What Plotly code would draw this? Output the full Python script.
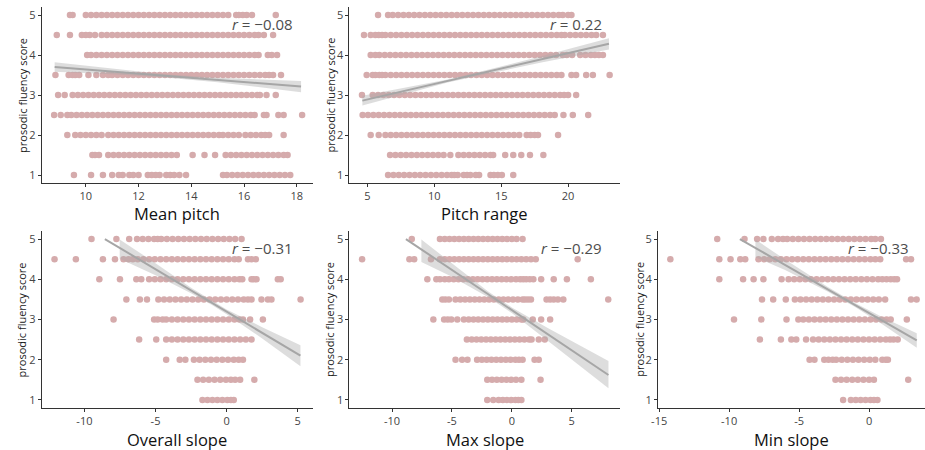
import plotly.graph_objects as go

# ---------------- data ----------------
Y_LEVELS = [5, 4.5, 4, 3.5, 3, 2.5, 2, 1.5, 1]

mean_pitch = {
    5: [9.4, 9.5, 10.0, 10.2, 10.4, 10.6, 10.8, 11.0, 11.2, 11.4, 11.6, 11.8, 12.0, 12.2, 12.4, 12.6, 12.8, 13.0, 13.2, 13.4, 13.6, 13.8, 14.0, 14.2, 14.4, 14.6, 14.8, 15.0, 15.2, 15.4, 15.7, 15.8, 15.95, 16.1, 16.3, 17.2],
    4.5: [8.9, 9.4, 9.85, 10.0, 10.15, 10.35, 10.6, 10.8, 11.0, 11.2, 11.4, 11.6, 11.8, 12.0, 12.2, 12.4, 12.6, 12.8, 13.0, 13.2, 13.4, 13.6, 13.8, 14.0, 14.2, 14.4, 14.6, 14.8, 15.0, 15.2, 15.4, 15.6, 15.8, 16.0, 16.2, 16.4, 16.55, 16.75, 17.1],
    4: [10.05, 10.2, 10.4, 10.6, 10.8, 11.0, 11.2, 11.4, 11.6, 11.8, 12.0, 12.2, 12.4, 12.6, 12.8, 13.0, 13.2, 13.4, 13.6, 13.8, 14.0, 14.2, 14.4, 14.6, 14.8, 15.0, 15.2, 15.4, 15.6, 15.8, 16.0, 16.2, 16.4, 16.55, 16.9, 17.05, 17.25],
    3.5: [8.85, 9.35, 9.5, 9.6, 9.75, 10.1, 10.4, 10.65, 10.85, 11.0, 11.2, 11.4, 11.6, 11.8, 12.0, 12.2, 12.4, 12.6, 12.8, 13.0, 13.2, 13.4, 13.6, 13.8, 14.0, 14.2, 14.4, 14.6, 14.8, 15.0, 15.2, 15.4, 15.6, 15.8, 16.0, 16.2, 16.4, 16.6, 16.8, 16.95, 17.1, 17.4],
    3: [8.95, 9.2, 9.5, 9.7, 9.9, 10.1, 10.3, 10.5, 10.7, 10.9, 11.1, 11.3, 11.5, 11.7, 11.9, 12.1, 12.3, 12.5, 12.7, 12.9, 13.1, 13.3, 13.5, 13.7, 13.9, 14.1, 14.3, 14.5, 14.7, 14.9, 15.1, 15.3, 15.5, 15.7, 15.9, 16.1, 16.3, 16.5, 16.6, 16.85, 17.2],
    2.5: [8.8, 9.05, 9.3, 9.45, 9.65, 9.85, 10.05, 10.25, 10.45, 10.65, 10.85, 11.05, 11.25, 11.45, 11.65, 11.85, 12.05, 12.25, 12.45, 12.65, 12.85, 13.05, 13.25, 13.45, 13.65, 13.85, 14.05, 14.25, 14.45, 14.65, 14.85, 15.05, 15.25, 15.45, 15.65, 15.85, 16.05, 16.25, 16.4, 16.75, 16.85, 17.3, 17.5, 18.2],
    2: [9.3, 9.6, 9.8, 10.0, 10.2, 10.4, 10.6, 10.85, 11.05, 11.25, 11.45, 11.65, 11.85, 12.05, 12.25, 12.45, 12.65, 12.85, 13.05, 13.25, 13.45, 13.65, 13.85, 14.05, 14.25, 14.45, 14.65, 14.85, 15.05, 15.2, 15.4, 15.6, 15.8, 16.05, 16.25, 16.45, 16.65, 16.8, 16.95, 17.5],
    1.5: [10.25, 10.35, 10.5, 10.85, 11.05, 11.25, 11.45, 11.65, 11.85, 12.05, 12.25, 12.45, 12.65, 12.85, 13.05, 13.25, 13.45, 14.05, 14.5, 14.9, 15.3, 15.5, 15.7, 15.9, 16.1, 16.3, 16.5, 16.7, 16.9, 17.1, 17.3, 17.5, 17.65],
    1: [9.55, 10.2, 10.65, 11.0, 11.25, 11.4, 11.65, 11.8, 12.0, 12.35, 12.5, 12.65, 12.8, 13.05, 13.2, 13.35, 13.55, 13.8, 15.2, 15.35, 15.55, 15.75, 15.95, 16.15, 16.35, 16.55, 16.75, 16.95, 17.15, 17.35, 17.55, 17.75],
}

pitch_range = {
    5: [5.8, 6.55, 6.9, 7.3, 7.7, 8.1, 8.5, 8.9, 9.3, 9.7, 10.1, 10.5, 10.9, 11.3, 11.7, 12.1, 12.5, 12.9, 13.3, 13.7, 14.1, 14.5, 14.9, 15.3, 15.7, 16.1, 16.5, 16.9, 17.3, 17.7, 18.1, 18.5, 18.9, 19.3, 19.6, 20.0, 20.25],
    4.5: [4.75, 5.25, 5.6, 5.85, 6.1, 6.35, 6.75, 7.15, 7.55, 7.95, 8.35, 8.75, 9.15, 9.55, 9.95, 10.35, 10.75, 11.15, 11.55, 11.95, 12.35, 12.75, 13.15, 13.55, 13.95, 14.35, 14.75, 15.15, 15.55, 15.95, 16.35, 16.75, 17.15, 17.55, 17.95, 18.35, 18.75, 19.15, 19.5, 19.75, 20.15, 20.55, 20.95, 21.35, 21.75, 22.1, 22.6],
    4: [5.25, 5.6, 5.9, 6.3, 6.7, 7.1, 7.5, 7.9, 8.3, 8.7, 9.1, 9.5, 9.9, 10.3, 10.7, 11.1, 11.5, 11.9, 12.3, 12.7, 13.1, 13.5, 13.9, 14.3, 14.7, 15.1, 15.5, 15.9, 16.3, 16.7, 17.1, 17.5, 17.9, 18.3, 18.7, 19.1, 19.6, 19.9, 20.3, 20.9, 21.3, 21.7, 22.0, 22.3, 22.6],
    3.5: [4.95, 5.4, 5.6, 5.9, 6.1, 6.35, 6.75, 7.15, 7.55, 7.95, 8.35, 8.75, 9.15, 9.55, 9.95, 10.35, 10.75, 11.15, 11.55, 11.95, 12.35, 12.75, 13.15, 13.55, 13.95, 14.35, 14.75, 15.15, 15.55, 15.95, 16.35, 16.75, 17.15, 17.55, 17.95, 18.35, 18.75, 19.15, 19.5, 20.25, 20.6, 21.35, 21.85, 23.1],
    3: [4.6, 5.4, 5.8, 6.2, 6.6, 7.0, 7.4, 7.8, 8.2, 8.6, 9.0, 9.4, 9.8, 10.2, 10.6, 11.0, 11.4, 11.8, 12.2, 12.6, 13.0, 13.4, 13.8, 14.2, 14.6, 15.0, 15.4, 15.8, 16.2, 16.6, 17.0, 17.4, 17.8, 18.2, 18.6, 19.0, 19.4, 19.7, 20.0, 20.6],
    2.5: [4.65, 5.05, 5.45, 5.85, 6.25, 6.65, 7.05, 7.45, 7.85, 8.25, 8.65, 9.05, 9.45, 9.85, 10.25, 10.65, 11.05, 11.45, 11.85, 12.25, 12.65, 13.05, 13.45, 13.85, 14.25, 14.65, 15.05, 15.45, 15.85, 16.25, 16.65, 17.05, 17.45, 17.85, 18.25, 18.65, 19.0, 19.65, 20.35, 21.5],
    2: [5.25, 5.85, 6.35, 6.75, 7.15, 7.55, 7.95, 8.35, 8.75, 9.15, 9.55, 9.95, 10.35, 10.75, 11.15, 11.55, 11.95, 12.35, 12.75, 13.15, 13.55, 13.95, 14.35, 14.75, 15.15, 15.55, 15.95, 16.35, 16.9, 17.2, 17.5, 17.75, 19.25],
    1.5: [6.7, 7.1, 7.5, 7.9, 8.3, 8.7, 9.1, 9.5, 9.9, 10.3, 10.7, 11.2, 11.8, 12.2, 12.6, 13.0, 13.4, 13.8, 14.2, 14.4, 15.3, 15.9, 16.5, 17.15, 18.15],
    1: [6.55, 6.95, 7.35, 7.75, 8.15, 8.55, 8.95, 9.35, 9.75, 10.15, 10.55, 10.95, 11.3, 11.5, 11.75, 12.2, 12.45, 12.7, 13.1, 13.35, 14.2, 14.45, 14.75, 15.05, 15.9],
}

overall_slope = {
    5: [-9.5, -7.75, -6.85, -6.3, -5.9, -5.5, -5.1, -4.85, -4.6, -4.2, -3.8, -3.4, -3.0, -2.6, -2.2, -1.8, -1.4, -1.0, -0.6, -0.2, 0.2, 0.6, 1.05],
    4.5: [-12.1, -10.6, -8.7, -7.85, -7.25, -6.9, -6.6, -6.25, -5.85, -5.45, -5.05, -4.65, -4.25, -3.85, -3.45, -3.05, -2.65, -2.25, -1.85, -1.45, -1.05, -0.65, -0.25, 0.15, 0.55, 0.85, 1.5, 1.75, 2.05],
    4: [-8.95, -7.5, -6.35, -6.0, -5.45, -5.05, -4.65, -4.25, -3.85, -3.45, -3.05, -2.65, -2.25, -1.85, -1.45, -1.05, -0.65, -0.25, 0.15, 0.55, 0.9, 1.1, 1.75, 1.9, 2.1, 3.6, 3.8],
    3.5: [-7.05, -6.1, -5.6, -4.8, -4.4, -4.0, -3.6, -3.2, -2.8, -2.4, -2.0, -1.6, -1.2, -0.8, -0.4, 0.0, 0.4, 0.8, 1.2, 1.5, 1.75, 2.45, 2.9, 3.15, 5.2],
    3: [-7.95, -5.1, -4.85, -4.5, -4.25, -3.85, -3.45, -3.05, -2.65, -2.25, -1.85, -1.45, -1.05, -0.65, -0.25, 0.15, 0.55, 0.9, 1.15, 1.65, 2.55],
    2.5: [-6.15, -4.95, -4.25, -3.85, -3.45, -3.05, -2.65, -2.25, -1.85, -1.45, -1.05, -0.65, -0.25, 0.15, 0.55, 0.95, 1.35, 1.75],
    2: [-4.25, -3.3, -2.9, -2.3, -1.9, -1.5, -1.1, -0.7, -0.3, 0.1, 0.5, 0.85, 1.15],
    1.5: [-2.05, -1.65, -1.25, -0.85, -0.45, -0.05, 0.3, 0.6, 0.95, 1.95],
    1: [-1.7, -1.35, -1.0, -0.65, -0.3, 0.05, 0.3, 0.5],
}

max_slope = {
    5: [-8.35, -6.0, -5.6, -5.2, -4.8, -4.4, -4.0, -3.6, -3.2, -2.8, -2.4, -2.0, -1.6, -1.2, -0.8, -0.4, 0.0, 0.4, 0.9],
    4.5: [-12.5, -8.55, -8.15, -6.75, -6.0, -5.6, -5.2, -4.8, -4.4, -4.0, -3.6, -3.2, -2.8, -2.4, -2.0, -1.6, -1.2, -0.8, -0.4, 0.0, 0.4, 0.8, 1.2, 1.6, 2.0, 5.5],
    4: [-7.05, -6.3, -6.0, -5.6, -5.25, -4.85, -4.45, -4.05, -3.65, -3.25, -2.85, -2.45, -2.05, -1.65, -1.25, -0.85, -0.45, -0.05, 0.35, 0.7, 0.95, 1.2, 1.5, 1.8, 2.45, 3.5, 4.6, 6.6],
    3.5: [-5.8, -5.55, -5.25, -4.7, -4.3, -3.9, -3.5, -3.1, -2.7, -2.3, -1.9, -1.5, -1.1, -0.7, -0.3, 0.1, 0.5, 0.9, 1.1, 1.35, 1.6, 2.9, 3.2, 3.5, 3.85, 4.3, 8.05],
    3: [-6.55, -5.65, -5.35, -5.05, -4.55, -4.0, -3.6, -3.2, -2.8, -2.4, -2.0, -1.6, -1.2, -0.8, -0.4, 0.0, 0.4, 0.8, 0.95, 1.75, 2.45, 3.2],
    2.5: [-3.75, -3.35, -2.95, -2.55, -2.15, -1.75, -1.35, -0.95, -0.55, -0.15, 0.25, 0.65, 1.05, 1.45, 1.65, 2.25, 2.75],
    2: [-4.7, -4.15, -3.7, -2.9, -2.5, -2.1, -1.7, -1.3, -0.9, -0.5, -0.1, 0.3, 0.6, 0.9, 1.9, 2.25],
    1.5: [-2.05, -1.65, -1.25, -0.85, -0.45, -0.05, 0.35, 0.8, 2.4],
    1: [-2.05, -1.55, -1.1, -0.75, -0.4, -0.05, 0.3, 0.55, 0.8],
}

min_slope = {
    5: [-10.85, -8.9, -8.0, -7.55, -6.95, -6.5, -6.15, -5.85, -5.45, -5.05, -4.65, -4.25, -3.85, -3.45, -3.05, -2.65, -2.25, -1.85, -1.45, -1.05, -0.65, -0.25, 0.15, 0.45, 0.85],
    4.5: [-14.2, -10.7, -9.9, -9.2, -8.85, -7.9, -7.5, -7.1, -6.7, -6.3, -5.9, -5.5, -5.1, -4.7, -4.3, -3.9, -3.5, -3.1, -2.7, -2.3, -1.9, -1.5, -1.1, -0.7, -0.3, 0.1, 0.45, 0.8, 2.65, 3.0],
    4: [-10.7, -9.0, -8.25, -7.55, -6.25, -5.75, -5.35, -4.95, -4.55, -4.15, -3.75, -3.35, -2.95, -2.55, -2.15, -1.75, -1.35, -0.95, -0.55, -0.15, 0.25, 0.65, 0.95, 1.25, 1.55, 1.8, 2.0],
    3.5: [-7.65, -6.85, -5.95, -5.3, -4.9, -4.5, -4.1, -3.7, -3.3, -2.9, -2.5, -2.1, -1.7, -1.3, -0.9, -0.5, -0.1, 0.3, 0.7, 1.15, 3.0, 3.4],
    3: [-9.65, -7.7, -5.9, -5.05, -4.7, -4.3, -3.9, -3.5, -3.1, -2.7, -2.3, -1.9, -1.5, -1.1, -0.7, -0.3, 0.1, 0.5, 0.9, 1.25, 1.55, 2.7],
    2.5: [-7.8, -6.3, -5.55, -5.2, -4.5, -4.0, -3.6, -3.2, -2.8, -2.4, -2.0, -1.6, -1.2, -0.8, -0.4, 0.0, 0.4, 0.8, 1.2, 1.5, 1.75, 2.05],
    2: [-4.25, -3.9, -3.2, -2.9, -2.6, -2.35, -1.95, -1.55, -1.15, -0.75, -0.35, 0.05, 0.45, 0.95, 1.2, 1.35],
    1.5: [-2.4, -2.0, -1.6, -1.2, -0.8, -0.4, 0.0, 0.35, 2.8],
    1: [-1.85, -1.3, -0.95, -0.6, -0.25, 0.1, 0.35, 0.6],
}

# regression lines (endpoints) and confidence bands
fit_mean_pitch = ([8.82, 18.16], [3.70, 3.21])
band_mean_pitch = ([8.82, 11, 13, 15, 17, 18.16], [3.58, 3.52, 3.44, 3.32, 3.16, 3.07], [3.82, 3.66, 3.52, 3.43, 3.38, 3.35])
fit_pitch_range = ([4.63, 23.05], [2.86, 4.28])
band_pitch_range = ([4.63, 8, 11, 14, 18, 23.05], [2.74, 3.05, 3.31, 3.53, 3.81, 4.14], [2.98, 3.19, 3.39, 3.63, 3.97, 4.42])
fit_overall_slope = ([-8.56, 5.19], [5.0, 2.10])
band_overall_slope = ([-7.52, -5, -2.5, -1, 0, 2.5, 5.19], [4.51, 4.10, 3.65, 3.355, 3.13, 2.53, 1.84], [4.99, 4.40, 3.79, 3.455, 3.25, 2.81, 2.36])
fit_max_slope = ([-8.84, 8.07], [5.0, 1.62])
band_max_slope = ([-7.55, -5, -2, 0, 3, 8.07], [4.43, 4.06, 3.56, 3.16, 2.47, 1.29], [4.99, 4.40, 3.70, 3.30, 2.79, 1.97])
fit_min_slope = ([-9.23, 3.41], [5.0, 2.48])
band_min_slope = ([-8.12, -6, -3, -1, 1, 3.41], [4.55, 4.23, 3.70, 3.31, 2.87, 2.30], [4.99, 4.49, 3.82, 3.41, 3.05, 2.66])

r_labels = ["\u2212" + "0.08", "0.22", "\u2212" + "0.31", "\u2212" + "0.29", "\u2212" + "0.33"]
x_titles = ["Mean pitch", "Pitch range", "Overall slope", "Max slope", "Min slope"]
x_tickvals = [[10, 12, 14, 16, 18], [5, 10, 15, 20], [-10, -5, 0, 5], [-10, -5, 0, 5], [-15, -10, -5, 0]]
x_ticktext = [["10", "12", "14", "16", "18"], ["5", "10", "15", "20"], ["-10", "-5", "0", "5"], ["-10", "-5", "0", "5"], ["-15", "-10", "-5", "0"]]
y_tickvals = [1, 2, 3, 4, 5]
y_ticktext = ["1", "2", "3", "4", "5"]
y_title = "prosodic fluency score"

# ---------------- layout geometry (pixels) ----------------
W, H = 925, 450
panels_px = [  # x0, x1, ytop, ybottom
    (35, 308, 7, 183),
    (345, 618, 7, 183),
    (35, 308, 231, 408),
    (345, 618, 231, 408),
    (656, 925, 231, 408),
]
x_ranges = [[8.33, 18.6], [3.66, 23.9], [-13.0, 6.05], [-13.56, 9.06], [-15.08, 4.0]]
ytitle_px = [15, 325, 15, 325, 637]
r_px = [(290, 24), (602, 24), (290, 248), (602, 248), (911, 248)]

datasets = [mean_pitch, pitch_range, overall_slope, max_slope, min_slope]
fits = [fit_mean_pitch, fit_pitch_range, fit_overall_slope, fit_max_slope, fit_min_slope]
bands = [band_mean_pitch, band_pitch_range, band_overall_slope, band_max_slope, band_min_slope]

POINT = "#D5ABAC"
LINE = "#A6A6A6"
BAND = "rgba(170,170,170,0.40)"
FONT = "Open Sans, Noto Sans, sans-serif"
TXT = "#4D4D4D"

fig = go.Figure()
layout = dict(
    width=W, height=H, margin=dict(l=0, r=0, t=0, b=0),
    paper_bgcolor="white", plot_bgcolor="white", showlegend=False,
    font=dict(family=FONT, color=TXT),
)
annotations = []

for i in range(5):
    ax = "" if i == 0 else str(i + 1)
    xa, ya = "x" + ax, "y" + ax
    data = datasets[i]
    xs, ys = [], []
    for lvl in Y_LEVELS:
        xs += data[lvl]
        ys += [lvl] * len(data[lvl])
    fig.add_trace(go.Scatter(x=xs, y=ys, mode="markers", xaxis=xa, yaxis=ya,
                             marker=dict(color=POINT, size=6.5, line=dict(width=0)),
                             hoverinfo="skip"))
    bx, blo, bhi = bands[i]
    fig.add_trace(go.Scatter(x=bx, y=blo, mode="lines", xaxis=xa, yaxis=ya,
                             line=dict(width=0), hoverinfo="skip"))
    fig.add_trace(go.Scatter(x=bx, y=bhi, mode="lines", xaxis=xa, yaxis=ya,
                             line=dict(width=0), fill="tonexty", fillcolor=BAND,
                             hoverinfo="skip"))
    fx, fy = fits[i]
    fig.add_trace(go.Scatter(x=fx, y=fy, mode="lines", xaxis=xa, yaxis=ya,
                             line=dict(color=LINE, width=2), hoverinfo="skip"))

    x0, x1, yt, yb = panels_px[i]
    common = dict(showgrid=False, zeroline=False, showline=True, linecolor="#333333",
                  linewidth=1, ticks="outside", ticklen=3, tickcolor="#333333",
                  tickfont=dict(size=11, color="#444444", family=FONT))
    layout["xaxis" + ax] = dict(domain=[x0 / W, x1 / W], range=x_ranges[i],
                                anchor=ya, tickvals=x_tickvals[i], ticktext=x_ticktext[i],
                                **common)
    layout["yaxis" + ax] = dict(domain=[1 - yb / H, 1 - yt / H], range=[0.8, 5.2],
                                anchor=xa, tickvals=y_tickvals, ticktext=y_ticktext,
                                **common)
    # x title
    annotations.append(dict(text=x_titles[i], xref="paper", yref="paper",
                            x=(x0 + x1) / 2 / W, y=1 - (yb + 31) / H,
                            xanchor="center", yanchor="middle", showarrow=False,
                            font=dict(size=16.5, color="#111111", family=FONT)))
    # y title
    annotations.append(dict(text=y_title, xref="paper", yref="paper",
                            x=ytitle_px[i] / W, y=1 - (yt + yb) / 2 / H, textangle=-90,
                            xanchor="center", yanchor="middle", showarrow=False,
                            font=dict(size=11, color="#222222", family=FONT)))
    # r label
    rx, ry = r_px[i]
    annotations.append(dict(text="<i>r</i> = " + r_labels[i], xref="paper", yref="paper",
                            x=rx / W, y=1 - ry / H, xanchor="right", yanchor="middle",
                            showarrow=False,
                            font=dict(size=15, color=TXT, family=FONT)))

layout["annotations"] = annotations
fig.update_layout(**layout)
fig.write_html("out.html")
